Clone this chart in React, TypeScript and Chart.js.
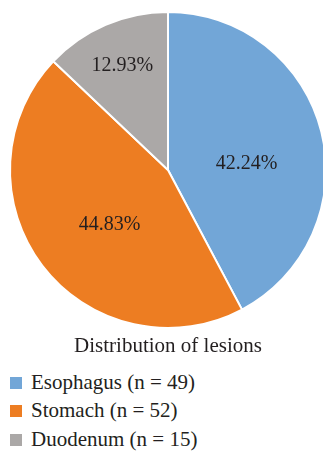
import React, { useEffect, useRef } from "react";
import { Chart, registerables } from "chart.js";

Chart.register(...registerables);

// Lesion counts by site
const categories = ["Esophagus", "Stomach", "Duodenum"];
const counts = [49, 52, 15];
const colors = ["#72a6d7", "#ed7d22", "#aba8a7"];
const chartTitle = "Distribution of lesions";

const total = counts.reduce((a, b) => a + b, 0);
const percentLabels = counts.map((c) => ((c / total) * 100).toFixed(2) + "%");

// Label placement inside each slice: fraction of radius along the slice's mid angle, plus a small nudge
const labelRadius = [0.5, 0.5, 0.73];
const labelNudge = [
  [2, 11],
  [4.5, 5.5],
  [0, 0],
];

const TEXT = "#231f20";
const SERIF = "'Liberation Serif', 'Times New Roman', serif";

const sliceLabels = {
  id: "sliceLabels",
  afterDatasetsDraw(chart: any) {
    const ctx = chart.ctx;
    const meta = chart.getDatasetMeta(0);
    ctx.save();
    ctx.font = `20px ${SERIF}`;
    ctx.fillStyle = TEXT;
    ctx.textAlign = "center";
    ctx.textBaseline = "alphabetic";
    meta.data.forEach((arc: any, i: number) => {
      const { x, y, startAngle, endAngle, outerRadius } = arc.getProps(
        ["x", "y", "startAngle", "endAngle", "outerRadius"],
        true
      );
      const mid = (startAngle + endAngle) / 2;
      const r = outerRadius * labelRadius[i];
      const cx = x + Math.cos(mid) * r + labelNudge[i][0];
      const cy = y + Math.sin(mid) * r + labelNudge[i][1];
      ctx.fillText(percentLabels[i], cx, cy + 6.8);
    });
    ctx.restore();
  },
};

export default function App() {
  const canvasRef = useRef<HTMLCanvasElement | null>(null);

  useEffect(() => {
    if (!canvasRef.current) return;
    const chart = new Chart(canvasRef.current, {
      type: "pie",
      data: {
        labels: categories,
        datasets: [
          {
            data: counts,
            backgroundColor: colors,
            borderColor: "#ffffff",
            borderWidth: 2,
          },
        ],
      },
      options: {
        responsive: false,
        animation: false,
        devicePixelRatio: 1,
        layout: { padding: { left: 9, right: 9, top: 11, bottom: 11 } },
        plugins: {
          legend: { display: false },
          title: { display: false },
          tooltip: { enabled: false },
        },
      },
      plugins: [sliceLabels],
    });
    return () => chart.destroy();
  }, []);

  const legendBaselines = [389.3, 417.8, 446.5];

  return (
    <div
      style={{
        position: "fixed",
        left: 0,
        top: 0,
        width: 323,
        height: 454,
        overflow: "hidden",
        background: "#ffffff",
        fontFamily: SERIF,
        color: TEXT,
      }}
    >
      <canvas
        ref={canvasRef}
        width={336}
        height={340}
        style={{ position: "absolute", left: 0, top: 0, width: 336, height: 340 }}
      />
      <div
        style={{
          position: "absolute",
          left: 0,
          width: 336,
          top: 353 - 17.6,
          textAlign: "center",
          fontSize: 21,
          lineHeight: "21px",
          whiteSpace: "nowrap",
        }}
      >
        {chartTitle}
      </div>
      {categories.map((name, i) => (
        <React.Fragment key={name}>
          <div
            style={{
              position: "absolute",
              left: 9.5,
              top: legendBaselines[i] - 12.6,
              width: 12,
              height: 12,
              background: colors[i],
            }}
          />
          <div
            style={{
              position: "absolute",
              left: 31,
              top: legendBaselines[i] - 17.6,
              fontSize: 21,
              lineHeight: "21px",
              whiteSpace: "nowrap",
            }}
          >
            {`${name} (n = ${counts[i]})`}
          </div>
        </React.Fragment>
      ))}
    </div>
  );
}
